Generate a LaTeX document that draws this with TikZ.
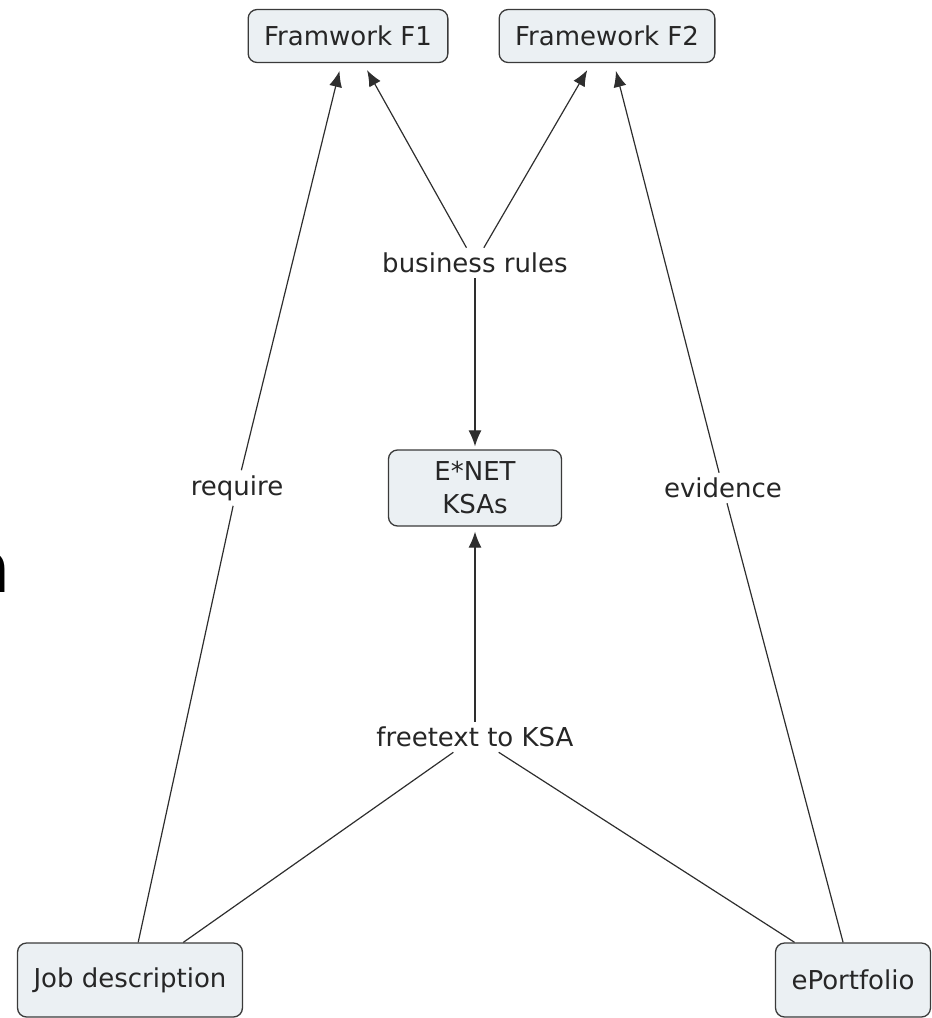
\documentclass[tikz,border=0pt]{standalone}
\usepackage{fontspec}
\setmainfont{DejaVu Sans}
\usetikzlibrary{positioning,arrows.meta}
\definecolor{conceptfill}{HTML}{EBF0F3}
\definecolor{conceptline}{HTML}{3A3A3A}
\definecolor{linkline}{HTML}{2E2E2E}
\tikzset{
    on grid,
    concept/.style = {
        draw=conceptline,
        fill=conceptfill,
        shape=rectangle,
        rounded corners=9pt,
        minimum height=53pt,
        inner xsep=16pt,
        line width=1.3pt,
        text=black!85,
        font=\fontsize{26}{33}\selectfont
    },
    linklabel/.style = {
        shape=rectangle,
        inner sep=5pt,
        text=black!85,
        font=\fontsize{26}{33}\selectfont
    },
    link/.style = {
        draw=linkline,
        line width=1.2pt
    },
    >={Latex[length=16pt,width=13pt]},
}

\begin{document}
\begin{tikzpicture}
        \useasboundingbox (0pt,0pt) rectangle (932pt,-1018pt);

        \node[concept, minimum height=76pt, minimum width=173pt, align=center] (ksa) at (475pt,-488pt) {E*NET\\KSAs};

        \node[concept, above left=452pt and 127pt of ksa] (f1) {Framwork F1};
        \node[concept, above right=452pt and 132pt of ksa] (f2) {Framework F2};
        \node[concept, minimum height=74pt, below left=492pt and 345pt of ksa] (job) {Job description};
        \node[concept, minimum height=74pt, below right=492pt and 378pt of ksa] (port) {ePortfolio};

        \node[linklabel, above=225pt of ksa] (rules) {business rules};
        \node[linklabel, below=249pt of ksa] (free) {freetext to KSA};
        \node[linklabel, left=238pt of ksa] (require) {require};
        \node[linklabel, right=248pt of ksa] (evid) {evidence};

        \node[anchor=base east, inner sep=0pt, font=\fontsize{70}{80}\selectfont] (cutn) at (11pt,-592pt) {n};

        \path[link, ->, shorten >=8pt] (rules) -- (f1);
        \path[link, ->, shorten >=8pt] (rules) -- (f2);
        \path[link, ->, shorten >=3pt] (rules) -- (ksa);

        \path[link, -] (job) -- (require);
        \path[link, ->, shorten >=8pt] (require) -- (f1);

        \path[link, -] (port) -- (evid);
        \path[link, ->, shorten >=8pt] (evid) -- (f2);

        \path[link, -] (job) -- (free);
        \path[link, -] (port) -- (free);
        \path[link, ->, shorten >=5pt] (free) -- (ksa);

    \end{tikzpicture}
\end{document}
